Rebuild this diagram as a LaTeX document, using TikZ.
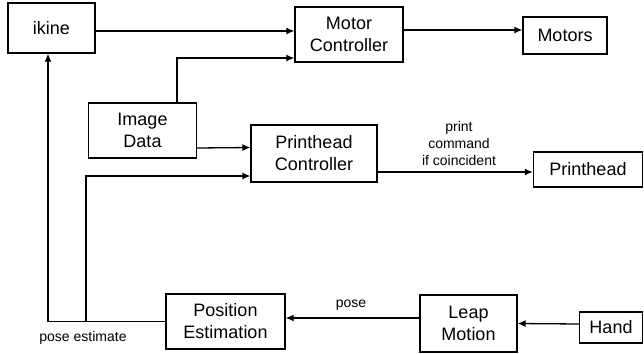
\documentclass[tikz,border=0pt]{standalone}
\usepackage{fontspec}
\setmainfont{Liberation Sans}
\usetikzlibrary{arrows.meta}
\begin{document}
\begin{tikzpicture}[x=1pt,y=-1pt,
  box/.style={draw,line width=1.3pt,inner sep=0pt,align=center,font=\fontsize{18}{22}\selectfont},
  arr/.style={line width=1.3pt,-{Latex[length=8pt,width=7pt]}},
  lbl/.style={font=\fontsize{14}{17}\selectfont,align=center,inner sep=0pt}]
\useasboundingbox (0,0) rectangle (644,353);
\node[box,minimum width=87pt,minimum height=50pt] (ikine) at (51.5,28) {ikine};
\node[box,minimum width=108pt,minimum height=55pt] (mc) at (349,34.5) {Motor\\Controller};
\node[box,minimum width=84pt,minimum height=37pt] (motors) at (565,35.5) {Motors};
\node[box,minimum width=108pt,minimum height=55pt] (img) at (142.5,130.5) {Image\\Data};
\node[box,minimum width=126pt,minimum height=57pt] (phc) at (314,153.5) {Printhead\\Controller};
\node[box,minimum width=109pt,minimum height=35pt] (ph) at (588,169.5) {Printhead};
\node[box,minimum width=119pt,minimum height=55pt] (pe) at (225.5,321.5) {Position\\Estimation};
\node[box,minimum width=97pt,minimum height=57pt] (leap) at (468.5,323.5) {Leap\\Motion};
\node[box,minimum width=63pt,minimum height=31pt] (hand) at (611,327.5) {Hand};
\coordinate (j) at (86,321.5);
\draw[arr] ([yshift=-3pt]ikine.east) -- ([yshift=3.5pt]mc.west);
\draw[arr] ([xshift=34.5pt]img.north) |- ([yshift=-23.5pt]mc.west);
\draw[arr] ([yshift=-17.5pt]img.east) -- ([yshift=6pt]phc.west);
\draw[arr] (pe.west) -| ([xshift=-3.5pt]ikine.south);
\draw[arr] (j) |- ([yshift=-22.5pt]phc.west);
\draw[arr] ([yshift=4.5pt]mc.east) -- ([yshift=5.5pt]motors.west);
\draw[arr] ([yshift=-18.5pt]phc.east) -- ([yshift=-2.5pt]ph.west);
\draw[arr] ([yshift=5.5pt]leap.west) -- ([yshift=3.5pt]pe.east);
\draw[arr] ([yshift=3.5pt]hand.west) -- (leap.east);
\node[lbl] (cmd) at (459,143) {print\\command\\if coincident};
\node[lbl] (pose) at (351,305) {pose};
\node[lbl] (pest) at (83,338) {pose estimate};
\end{tikzpicture}
\end{document}
